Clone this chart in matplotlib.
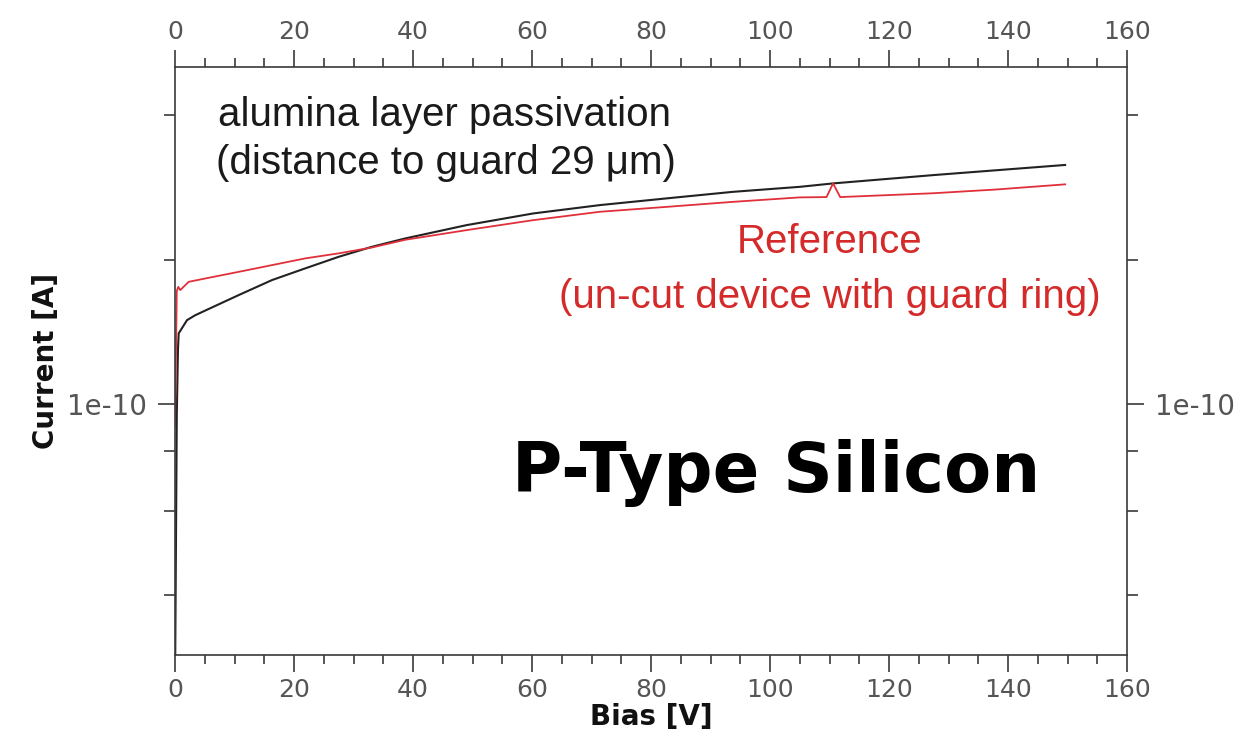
import matplotlib
matplotlib.use("Agg")
import matplotlib.pyplot as plt
from matplotlib.ticker import LogLocator, NullFormatter, FixedLocator, FuncFormatter, MultipleLocator

# Data (Bias [V], Current [A])
alumina_bias = [0.0, 0.3, 0.5, 0.62, 2.02, 3.41, 6.22, 10.7, 16.3, 21.9, 27.5, 33.1, 38.7,
                49.0, 60.2, 71.4, 82.6, 93.8, 105.0, 110.6, 127.4, 149.6]
alumina_current = [2.5e-11, 9.5e-11, 1.3e-10, 1.404e-10, 1.496e-10, 1.532e-10, 1.590e-10, 1.687e-10,
                   1.813e-10, 1.918e-10, 2.027e-10, 2.127e-10, 2.214e-10, 2.360e-10, 2.496e-10,
                   2.598e-10, 2.683e-10, 2.769e-10, 2.836e-10, 2.883e-10, 3.00e-10, 3.15e-10]

ref_bias = [0.0, 0.3, 0.55, 0.89, 2.30, 5.09, 10.7, 16.3, 21.9, 27.5, 33.1, 38.7, 49.0, 60.2,
            71.4, 82.6, 93.8, 105.0, 109.5, 110.6, 111.8, 127.4, 138.0, 149.6]
ref_current = [9.0e-11, 1.72e-10, 1.755e-10, 1.728e-10, 1.798e-10, 1.827e-10, 1.886e-10, 1.948e-10,
               2.012e-10, 2.061e-10, 2.120e-10, 2.200e-10, 2.304e-10, 2.417e-10, 2.516e-10,
               2.576e-10, 2.639e-10, 2.696e-10, 2.70e-10, 2.883e-10, 2.70e-10, 2.75e-10,
               2.80e-10, 2.87e-10]

x_ticks = [0, 20, 40, 60, 80, 100, 120, 140, 160]
y_major = [1e-10]
y_minor_subs = [2, 4, 6, 8]

fig = plt.figure(figsize=(12.52, 7.39), dpi=100)
ax = fig.add_axes([175/1252, 1 - 655/739, (1127-175)/1252, (655-67)/739])

ax.plot(alumina_bias, alumina_current, color="#222222", lw=1.5)
ax.plot(ref_bias, ref_current, color="#e0303a", lw=1.3)

ax.set_yscale("log")
ax.set_xlim(0, 160)
ax.set_ylim(3.0e-11, 5.04e-10)

ax.xaxis.set_major_locator(FixedLocator(x_ticks))
ax.xaxis.set_minor_locator(MultipleLocator(5))
ax.yaxis.set_major_locator(FixedLocator(y_major))
ax.yaxis.set_major_formatter(FuncFormatter(lambda v, p: "1e-10"))
ax.yaxis.set_minor_locator(LogLocator(base=10, subs=y_minor_subs, numticks=20))
ax.yaxis.set_minor_formatter(NullFormatter())

frame = "#3a3a3a"
for s in ax.spines.values():
    s.set_color(frame)
    s.set_linewidth(1.2)

ax.tick_params(axis="x", which="major", direction="out", length=12.5, width=1.2, color=frame,
               labelsize=18, labelcolor="#555555", top=True, labeltop=True, pad=4)
ax.tick_params(axis="x", which="minor", direction="out", length=6.5, width=1.2, color=frame, top=True)
ax.tick_params(axis="y", which="major", direction="out", length=12, width=1.2, color=frame,
               labelsize=20, labelcolor="#555555", right=True, labelright=True, pad=8)
ax.tick_params(axis="y", which="minor", direction="out", length=8, width=1.2, color=frame, right=True)

ax.set_xlabel("Bias [V]", fontsize=20, fontweight="bold", color="#111111", labelpad=1)
ax.set_ylabel("Current [A]", fontsize=20, fontweight="bold", color="#111111", labelpad=5)

sans = ["Liberation Sans", "DejaVu Sans"]
ax.text(0.045, 0.918, "alumina layer passivation", transform=ax.transAxes, fontsize=29,
        family=sans, color="#1a1a1a", va="center", ha="left")
ax.text(0.043, 0.837, "(distance to guard 29 \u03bcm)", transform=ax.transAxes, fontsize=29,
        family=sans, color="#1a1a1a", va="center", ha="left")
ax.text(0.688, 0.702, "Reference", transform=ax.transAxes, fontsize=29,
        family=sans, color="#d42a2a", va="center", ha="center")
ax.text(0.688, 0.609, "(un-cut device with guard ring)", transform=ax.transAxes, fontsize=29,
        family=sans, color="#d42a2a", va="center", ha="center")
ax.text(0.354, 0.310, "P-Type Silicon", transform=ax.transAxes, fontsize=49.5,
        fontweight="bold", family="DejaVu Sans", color="black", va="center", ha="left")

fig.savefig("out.png", dpi=100)
